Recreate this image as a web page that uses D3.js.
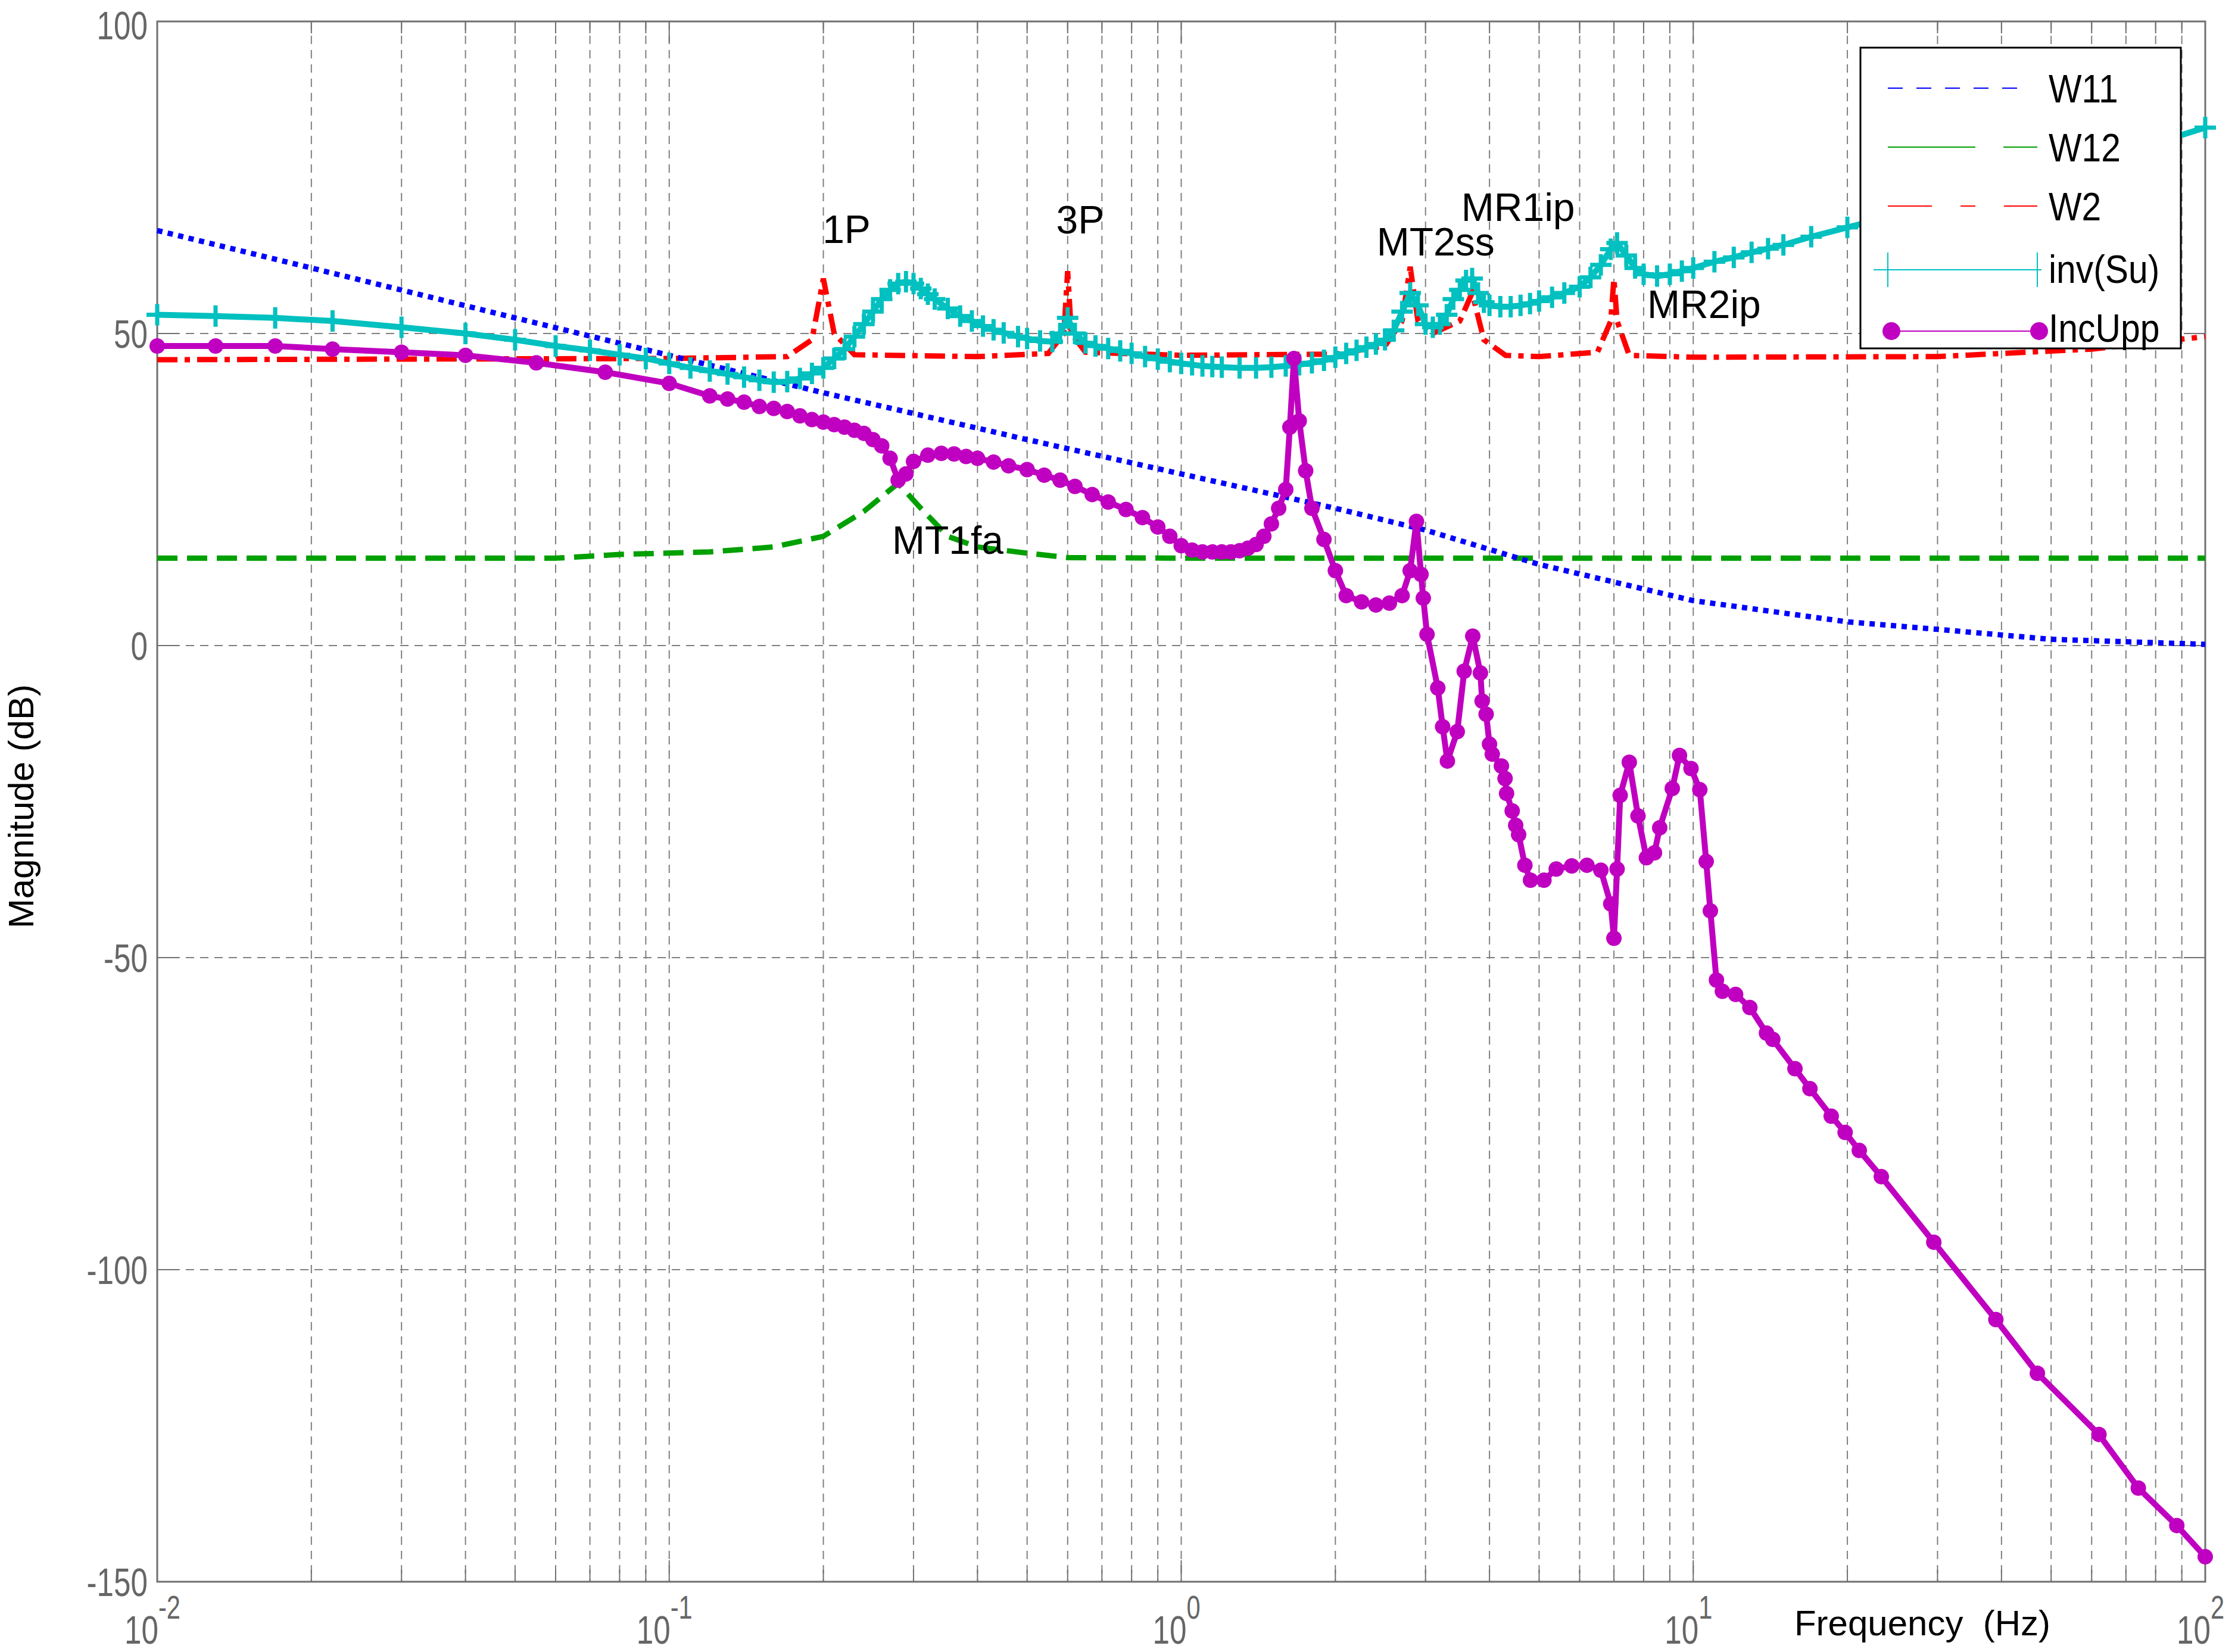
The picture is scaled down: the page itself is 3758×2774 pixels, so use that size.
<!DOCTYPE html>
<html><head><meta charset="utf-8">
<script src="https://cdn.jsdelivr.net/npm/d3@7"></script>
<style>body{margin:0;background:#fff}</style></head>
<body><svg id="c" width="3758" height="2774"></svg>
<script>
// ---- data ----
const w11F = [0.01,0.02,0.05,0.1,0.2,0.5,1,2,3,5,10,20,30,50,100];
const w11M = [66.5,60.5,52.5,46.5,40.5,33,27.5,22,18.5,13,7.2,3.8,2.6,1,0.2];
const w12F = [0.01,0.06,0.08,0.12,0.16,0.2,0.24,0.28,0.31,0.35,0.4,0.5,0.6,1,10,100];
const w12M = [14,14,14.6,15,15.8,17.5,21.5,26,22,17.5,15.8,14.8,14.1,14,14,14];
const w2F = [0.01,0.1,0.17,0.19,0.2,0.21,0.23,0.4,0.55,0.59,0.6,0.61,0.65,1,2,2.5,2.7,2.8,2.9,3.1,3.5,3.7,3.9,4.3,5,6.5,6.9,7.0,7.1,7.5,10,30,60,100];
const w2M = [45.8,46,46.3,49,58.8,50,46.6,46.3,46.8,50,60,50,47,46.5,46.7,48,52,60.7,52,50,52,56.5,49,46.5,46.3,47,52,58.8,52,46.5,46.2,46.3,47.5,49.5];
const suF = [0.01,0.013,0.017,0.022,0.03,0.04,0.05,0.06,0.07,0.08,0.09,0.1,0.11,0.12,0.13,0.14,0.15,0.16,0.17,0.18,0.19,0.2,0.21,0.22,0.23,0.24,0.25,0.26,0.27,0.28,0.29,0.3,0.31,0.32,0.33,0.35,0.37,0.39,0.41,0.43,0.45,0.48,0.5,0.53,0.56,0.58,0.6,0.62,0.65,0.68,0.72,0.76,0.8,0.85,0.9,0.95,1,1.05,1.1,1.15,1.2,1.3,1.4,1.5,1.6,1.7,1.8,1.9,2,2.1,2.2,2.3,2.4,2.5,2.6,2.7,2.8,2.9,3,3.1,3.2,3.3,3.4,3.5,3.6,3.7,3.8,3.9,4,4.2,4.4,4.6,4.8,5,5.3,5.6,6,6.3,6.6,6.9,7.1,7.4,7.7,8,8.5,9,9.5,10,11,12,13,14,15,17,20,25,30,40,50,70,100];
const suM = [53,52.8,52.5,52,51,50,49,48,47.3,46.6,46,45.2,44.5,44,43.5,43,42.5,42.2,42.3,42.8,43.6,44.5,46,47.5,49.5,51.5,53.5,55.5,57,58,58.3,58,57.2,56.3,55.5,54,52.8,52,51.2,50.6,50.1,49.5,49.2,48.8,48.7,50,52.5,50,48.5,48,47.6,47.2,46.8,46.3,45.9,45.5,45.2,45,44.8,44.7,44.6,44.5,44.5,44.6,44.8,45,45.3,45.7,46.2,46.8,47.3,47.8,48.3,49,50.5,53.5,56.5,54.5,51.5,51,51.5,53,55.5,57,58.5,58.8,56.5,55,54.5,54.3,54.3,54.5,54.8,55.2,55.8,56.5,57.5,59,61,63.5,64.5,62.5,60.5,59.5,59.2,59.5,60,60.5,61.5,62.2,63,63.6,64.2,65.5,67,69,70.5,73,75,79,83];
const iuF = [0.01,0.013,0.017,0.022,0.03,0.04,0.055,0.075,0.1,0.12,0.13,0.14,0.15,0.16,0.17,0.18,0.19,0.2,0.21,0.22,0.23,0.24,0.25,0.26,0.27,0.28,0.29,0.3,0.32,0.34,0.36,0.38,0.4,0.43,0.46,0.5,0.54,0.58,0.62,0.67,0.72,0.78,0.84,0.9,0.95,1.0,1.05,1.1,1.15,1.2,1.25,1.3,1.35,1.4,1.45,1.5,1.55,1.6,1.63,1.66,1.7,1.75,1.8,1.9,2.0,2.1,2.25,2.4,2.55,2.7,2.8,2.88,2.94,2.97,3.02,3.17,3.24,3.31,3.46,3.57,3.71,3.84,3.87,3.94,4.0,4.05,4.22,4.29,4.32,4.43,4.5,4.56,4.69,4.81,5.11,5.4,5.79,6.2,6.6,6.9,7.0,7.1,7.2,7.5,7.8,8.1,8.4,8.6,9.1,9.4,9.9,10.3,10.6,10.8,11.1,11.4,12.1,12.9,13.9,14.3,15.8,16.9,18.6,19.8,21.1,23.3,29.5,39,47,62,74,88,100];
const iuM = [48,48,48,47.5,47,46.5,45.3,43.8,42,40,39.5,39,38.3,38,37.5,36.8,36.2,35.8,35.4,35,34.5,34,33,32,30,26.5,27.5,29.5,30.5,30.8,30.7,30.3,30,29.4,28.8,28.2,27.3,26.5,25.5,24.2,23,21.8,20.5,19,17.5,16,15.3,15,15,15,15,15.2,15.6,16.2,17.5,19.5,22,25,35,46,36,28,22,17,12,8,7,6.5,6.8,8,12,19.9,11.4,7.6,1.8,-6.8,-13,-18.5,-13.8,-4.1,1.5,-4.4,-8.9,-11,-15.8,-17.4,-19.3,-21.3,-23.7,-26.5,-28.8,-30.3,-35.2,-37.6,-37.6,-35.8,-35.3,-35.2,-36,-41.4,-46.9,-35.8,-24,-18.7,-27.3,-34,-33.2,-29.2,-22.9,-17.6,-19.7,-23.1,-34.6,-42.5,-53.6,-55.4,-55.9,-58,-62.1,-63.1,-67.8,-71,-75.4,-78,-80.9,-85.1,-95.6,-108,-116.6,-126.4,-135,-141,-146];
const annotations = [
  {t:"1P",f:0.222,m:64.5},{t:"3P",f:0.635,m:66},{t:"MT2ss",f:3.14,m:62.5},
  {t:"MR1ip",f:4.55,m:68},{t:"MR2ip",f:10.5,m:52.5},{t:"MT1fa",f:0.35,m:14.7}
];
const yTicks = [-150,-100,-50,0,50,100];
const xTickExp = [-2,-1,0,1,2];
const legendNames = ["W11","W12","W2","inv(Su)","IncUpp"];

// ---- layout ----
const L=264,R=3703,T=36,B=2656;
const svg=d3.select("#c");
const x=d3.scaleLog().domain([0.01,100]).range([L,R]);
const y=d3.scaleLinear().domain([-150,100]).range([B,T]);
const FONT="'Liberation Sans',Arial,sans-serif";
const grid=svg.append("g").attr("stroke","#808080").attr("stroke-width",2).attr("stroke-dasharray","14,10");
const minor=[];
for(let e=-2;e<2;e++)for(let k=1;k<10;k++)minor.push(k*Math.pow(10,e));
minor.push(100);
minor.forEach(v=>{ if(v>0.01&&v<100) grid.append("line").attr("x1",x(v)).attr("x2",x(v)).attr("y1",T).attr("y2",B);});
yTicks.forEach(v=>{ if(v>-150&&v<100) grid.append("line").attr("x1",L).attr("x2",R).attr("y1",y(v)).attr("y2",y(v));});
const tk=svg.append("g").attr("stroke","#707070").attr("stroke-width",2);
minor.forEach(v=>{const len=(Math.abs(Math.log10(v)-Math.round(Math.log10(v)))<1e-9)?36:20;
 tk.append("line").attr("x1",x(v)).attr("x2",x(v)).attr("y1",B).attr("y2",B-len);
 tk.append("line").attr("x1",x(v)).attr("x2",x(v)).attr("y1",T).attr("y2",T+len);});
yTicks.forEach(v=>{tk.append("line").attr("x1",L).attr("x2",L+36).attr("y1",y(v)).attr("y2",y(v));
 tk.append("line").attr("x1",R).attr("x2",R-36).attr("y1",y(v)).attr("y2",y(v));});
svg.append("rect").attr("x",L).attr("y",T).attr("width",R-L).attr("height",B-T).attr("fill","none").attr("stroke","#707070").attr("stroke-width",3);
// tick labels (condensed)
yTicks.forEach(v=>svg.append("text").attr("transform",`translate(${L-16},${Math.max(y(v)+24,66)}) scale(0.8,1.05)`).attr("text-anchor","end").attr("font-family",FONT).attr("font-size",64).attr("fill","#666").text(v));
xTickExp.forEach(e=>{const t=svg.append("text").attr("transform",`translate(${x(Math.pow(10,e))-8},2760) scale(0.8,1.05)`).attr("text-anchor","middle").attr("font-family",FONT).attr("font-size",64).attr("fill","#666");
 t.append("tspan").text("10"); t.append("tspan").attr("dy",-40).attr("font-size",52).text(e);});
svg.append("text").attr("x",3228).attr("y",2746).attr("text-anchor","middle").attr("font-family",FONT).attr("font-size",60).attr("fill","#000").attr("xml:space","preserve").text("Frequency  (Hz)");
svg.append("text").attr("transform","translate(56,1354) rotate(-90)").attr("text-anchor","middle").attr("font-family",FONT).attr("font-size",60).attr("fill","#000").text("Magnitude (dB)");
// series
const plot=svg.append("g");
const line=d3.line().x(d=>x(d[0])).y(d=>y(d[1]));
const zip=(a,b)=>a.map((v,i)=>[v,b[i]]);
plot.append("path").attr("d",line(zip(w12F,w12M))).attr("fill","none").attr("stroke","#00a000").attr("stroke-width",9).attr("stroke-dasharray","34,16");
plot.append("path").attr("d",line(zip(w2F,w2M))).attr("fill","none").attr("stroke","#ff0000").attr("stroke-width",9).attr("stroke-dasharray","34,12,9,12");
plot.append("path").attr("d",line(zip(w11F,w11M))).attr("fill","none").attr("stroke","#0000ff").attr("stroke-width",9).attr("stroke-dasharray","9,9");
const su=zip(suF,suM);
plot.append("path").attr("d",line(su)).attr("fill","none").attr("stroke","#00c0c0").attr("stroke-width",10);
plot.append("g").selectAll("path").data(su).join("path").attr("d",d=>`M${x(d[0])-18},${y(d[1])}h36M${x(d[0])},${y(d[1])-18}v36`).attr("stroke","#00c0c0").attr("stroke-width",7);
const iu=zip(iuF,iuM);
plot.append("path").attr("d",line(iu)).attr("fill","none").attr("stroke","#c000c0").attr("stroke-width",10);
plot.append("g").selectAll("circle").data(iu).join("circle").attr("cx",d=>x(d[0])).attr("cy",d=>y(d[1])).attr("r",13).attr("fill","#c000c0");
// annotations
annotations.forEach(a=>svg.append("text").attr("x",x(a.f)).attr("y",y(a.m)).attr("text-anchor","middle").attr("font-family",FONT).attr("font-size",66).attr("fill","#000").text(a.t));
// legend
const lg=svg.append("g").attr("transform","translate(3124,80)");
lg.append("rect").attr("width",538).attr("height",505).attr("fill","#fff").attr("stroke","#000").attr("stroke-width",3);
const ly=i=>68+i*99;
const lx1=46,lx2=282;
lg.append("line").attr("x1",lx1).attr("x2",lx2).attr("y1",ly(0)).attr("y2",ly(0)).attr("stroke","#0000ff").attr("stroke-width",2).attr("stroke-dasharray","25,23");
lg.append("line").attr("x1",lx1).attr("x2",lx2+15).attr("y1",ly(1)).attr("y2",ly(1)).attr("stroke","#00a000").attr("stroke-width",2).attr("stroke-dasharray","147,47");
lg.append("line").attr("x1",lx1).attr("x2",lx2+15).attr("y1",ly(2)).attr("y2",ly(2)).attr("stroke","#ff0000").attr("stroke-width",2).attr("stroke-dasharray","74,48,25,48");
lg.append("line").attr("x1",22).attr("x2",lx2+22).attr("y1",ly(3)+8).attr("y2",ly(3)+8).attr("stroke","#00c0c0").attr("stroke-width",2);
[lx1,lx2+15].forEach(px=>lg.append("line").attr("x1",px).attr("x2",px).attr("y1",ly(3)-21).attr("y2",ly(3)+37).attr("stroke","#00c0c0").attr("stroke-width",2));
lg.append("line").attr("x1",lx1+10).attr("x2",lx2+15).attr("y1",ly(4)+12).attr("y2",ly(4)+12).attr("stroke","#c000c0").attr("stroke-width",2);
[lx1+6,lx2+18].forEach(px=>lg.append("circle").attr("cx",px).attr("cy",ly(4)+12).attr("r",15).attr("fill","#c000c0"));
legendNames.forEach((n,i)=>lg.append("text").attr("transform",`translate(316,${ly(i)+(i>=3?30:24)}) scale(0.92,1.05)`).attr("font-family",FONT).attr("font-size",64).attr("fill","#000").text(n));
</script></body></html>
